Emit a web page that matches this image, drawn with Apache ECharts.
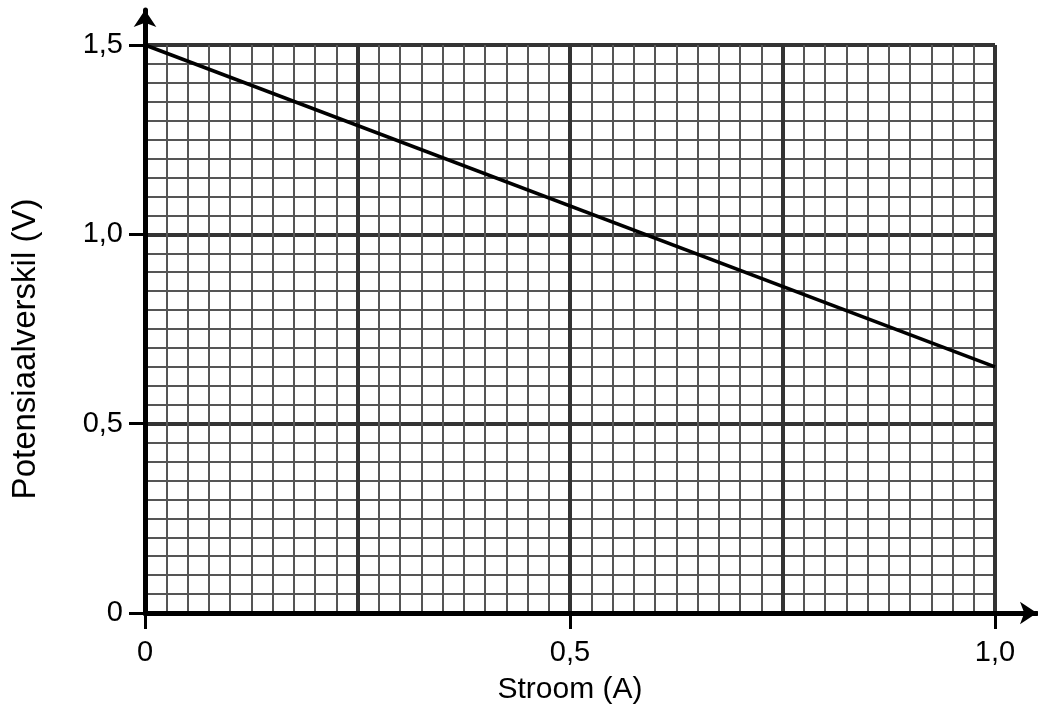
<!DOCTYPE html>
<html>
<head>
<meta charset="utf-8">
<script src="https://cdn.jsdelivr.net/npm/echarts@6/dist/echarts.min.js"></script>
<style>html,body{margin:0;padding:0;background:#fff}#c{width:1038px;height:707px}</style>
</head>
<body>
<div id="c"></div>
<script>
// Data
var currentA = [0, 1.0];
var voltageV = [1.5, 0.65];
var xTickValues = [0, 0.5, 1.0];
var xTickLabels = ['0', '0,5', '1,0'];
var yTickValues = [0, 0.5, 1.0, 1.5];
var yTickLabels = ['0', '0,5', '1,0', '1,5'];
var xTitle = 'Stroom (A)';
var yTitle = 'Potensiaalverskil (V)';

function lookup(vals, labels, v) {
  for (var i = 0; i < vals.length; i++) if (Math.abs(vals[i] - v) < 1e-6) return labels[i];
  return '';
}

var FONT = 'Liberation Sans, Arial, sans-serif';
var chart = echarts.init(document.getElementById('c'), null, {renderer: 'canvas'});
chart.setOption({
  backgroundColor: '#fff',
  animation: false,
  grid: [
    {left: 145, right: 43, top: 45, bottom: 94, containLabel: false, outerBoundsMode: 'none'},
    {left: 145, right: 1, top: 10, bottom: 94, containLabel: false, outerBoundsMode: 'none'}
  ],
  xAxis: [
    { // gridlines
      type: 'value', gridIndex: 0, position: 'bottom', min: 0, max: 1, interval: 0.25,
      axisLine: {show: false}, axisTick: {show: false}, axisLabel: {show: false},
      splitLine: {show: true, lineStyle: {color: '#333', width: 4}},
      minorTick: {show: false, splitNumber: 10},
      minorSplitLine: {show: true, lineStyle: {color: '#555', width: 2}}
    },
    { // ticks + labels
      type: 'value', gridIndex: 0, position: 'bottom', offset: 0, min: 0, max: 1, interval: 0.5,
      name: xTitle, nameLocation: 'middle', nameGap: 62,
      nameTextStyle: {fontFamily: FONT, fontSize: 30, color: '#000'},
      axisLine: {show: false},
      axisTick: {show: true, length: 16, lineStyle: {color: '#000', width: 3}},
      axisLabel: {show: true, margin: 25, fontFamily: FONT, fontSize: 29, color: '#000',
        formatter: function (v) { return lookup(xTickValues, xTickLabels, v); }},
      splitLine: {show: false}
    },
    { // arrow axis line
      type: 'value', gridIndex: 1, position: 'bottom', min: 0, max: 1,
      axisLine: {show: true, symbol: ['none', 'arrow'], symbolSize: [17, 17],
        lineStyle: {color: '#000', width: 5}},
      axisTick: {show: false}, axisLabel: {show: false}, splitLine: {show: false}, z: 10
    }
  ],
  yAxis: [
    {
      type: 'value', gridIndex: 0, position: 'left', min: 0, max: 1.5, interval: 0.5,
      name: yTitle, nameLocation: 'middle', nameGap: 103,
      nameTextStyle: {fontFamily: FONT, fontSize: 33, color: '#000', padding: [0, 40, 0, 0]},
      axisLine: {show: false},
      axisTick: {show: true, length: 16, lineStyle: {color: '#000', width: 3}},
      axisLabel: {show: true, margin: 22, fontFamily: FONT, fontSize: 29, color: '#000',
        formatter: function (v) { return lookup(yTickValues, yTickLabels, v); }},
      splitLine: {show: true, lineStyle: {color: '#333', width: 4}},
      minorTick: {show: false, splitNumber: 10},
      minorSplitLine: {show: true, lineStyle: {color: '#555', width: 2}}
    },
    {
      type: 'value', gridIndex: 1, position: 'left', min: 0, max: 1,
      axisLine: {show: true, symbol: ['none', 'arrow'], symbolSize: [17, 17],
        lineStyle: {color: '#000', width: 5}},
      axisTick: {show: false}, axisLabel: {show: false}, splitLine: {show: false}, z: 10
    }
  ],
  series: [{
    type: 'line', xAxisIndex: 0, yAxisIndex: 0,
    data: currentA.map(function (x, i) { return [x, voltageV[i]]; }),
    showSymbol: false, symbol: 'none',
    lineStyle: {color: '#000', width: 3.5},
    z: 5
  }]
});
</script>
</body>
</html>
